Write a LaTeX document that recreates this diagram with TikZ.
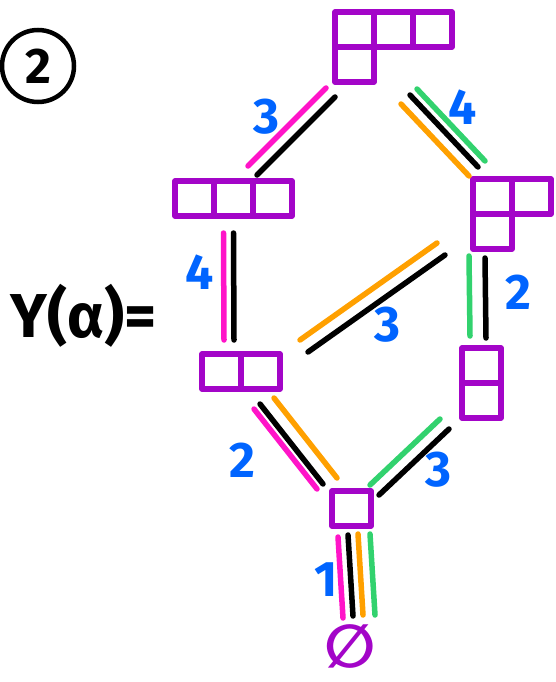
\documentclass[tikz,border=0pt]{standalone}
\usepackage{fontspec}
\setmainfont{Fira Sans}
\newfontfamily\symfont{DejaVu Sans}
\usetikzlibrary{positioning}
\definecolor{ypurple}{RGB}{163,5,200}
\definecolor{ypink}{RGB}{255,20,200}
\definecolor{yorange}{RGB}{255,160,0}
\definecolor{ygreen}{RGB}{50,210,110}
\definecolor{yblue}{RGB}{0,100,255}
\begin{document}
\begin{tikzpicture}[x=1pt, y=-1pt,
    cell/.style={draw=ypurple, line width=5.5pt, line join=round,
                 minimum width=39pt, minimum height=35pt,
                 inner sep=0pt, outer sep=0pt},
    edge/.style={line width=5.5pt, line cap=round},
    num/.style={text=yblue, inner sep=0pt,
                font=\bfseries\fontsize{50}{50}\selectfont}
  ]
    \useasboundingbox (0,0) rectangle (556,682);
    % Label
    \node[circle, draw, line width=4.5pt, minimum size=72pt, inner sep=0pt,
          font=\bfseries\fontsize{50}{50}\selectfont] (fig2) at (38,66) {2};
    \node[anchor=base west, inner sep=0pt,
          font=\bfseries\fontsize{62}{62}\selectfont] (yal) at (10,337) {Y(α)=};
    % Top: (3,1)
    \node[cell, anchor=north west] (t1) at (335,12) {};
    \node[cell, right=0pt of t1] (t2) {};
    \node[cell, right=0pt of t2] (t3) {};
    \node[cell, below=0pt of t1] (t4) {};
    % Second level: (3) and (2,1)
    \node[cell, anchor=north west] (l1) at (175,181) {};
    \node[cell, right=0pt of l1] (l2) {};
    \node[cell, right=0pt of l2] (l3) {};
    \node[cell, anchor=north west] (r1) at (473,179) {};
    \node[cell, right=0pt of r1] (r2) {};
    \node[cell, below=0pt of r1] (r3) {};
    % Third level: (2) and (1,1)
    \node[cell, anchor=north west] (m1) at (202,354) {};
    \node[cell, right=0pt of m1] (m2) {};
    \node[cell, anchor=north west] (n1) at (462,348) {};
    \node[cell, below=0pt of n1] (n2) {};
    % Bottom: (1) and empty
    \node[cell, anchor=north west] (b1) at (332,491) {};
    \node[text=ypurple, inner sep=0pt,
          font=\symfont\bfseries\fontsize{60}{60}\selectfont] (empty) at (350,646) {∅};
    % Edges (top half)
    \foreach \c/\dx/\dy in {ypink/-9/-9, black/0/0}
      \draw[edge, draw=\c, transform canvas={shift={(\dx,\dy)}}]
        ([shift={(0,15)}]t4.south west) -- ([shift={(-15.5,-6)}]l3.north);
    \foreach \c/\dx/\dy in {yorange/-9/9, black/0/0, ygreen/7/-6}
      \draw[edge, draw=\c, transform canvas={shift={(\dx,\dy)}}]
        ([shift={(-3,48)}]t3.south west) -- ([shift={(5,-12)}]r1.north west);
    \foreach \c/\dx/\dy in {ypink/-10/0, black/0/0}
      \draw[edge, draw=\c, transform canvas={shift={(\dx,\dy)}}]
        ([shift={(0,17)}]l2.south) -- ([shift={(-7,-14)}]m1.north east);
    \foreach \c/\dx/\dy in {yorange/-8/-12, black/0/0}
      \draw[edge, draw=\c, transform canvas={shift={(\dx,\dy)}}]
        ([shift={(-28,6)}]r3.south west) -- ([shift={(28,-2)}]m2.north east);
    \foreach \c/\dx/\dy in {ygreen/-16/-2, black/0/0}
      \draw[edge, draw=\c, transform canvas={shift={(\dx,\dy)}}]
        ([shift={(-7.5,9)}]r3.south) -- ([shift={(4.5,-10)}]n1.north);
    % Edges (bottom half)
    \foreach \c/\dx/\dy in {ypink/-6/5, black/0/0, yorange/14/-6}
      \draw[edge, draw=\c, transform canvas={shift={(\dx,\dy)}}]
        ([shift={(19,15)}]m2.south west) -- ([shift={(-9,-7)}]b1.north west);
    \foreach \c/\dx/\dy in {ygreen/-9/-10, black/0/0}
      \draw[edge, draw=\c, transform canvas={shift={(\dx,\dy)}}]
        ([shift={(-13,11)}]n2.south west) -- ([shift={(8,4)}]b1.north east);
    \foreach \c/\dx/\dy in {ypink/-10/2, black/0/0, yorange/10/-1, ygreen/22/-1}
      \draw[edge, draw=\c, transform canvas={shift={(\dx,\dy)}}]
        ([shift={(-3.5,9)}]b1.south) -- ([shift={(3,-30)}]empty.center);
    % Multiplicities
    \node[num] (k1) at (266,117) {3};
    \node[num] (k2) at (463,107) {4};
    \node[num] (k3) at (200,272) {4};
    \node[num] (k4) at (387,325) {3};
    \node[num] (k5) at (518,292) {2};
    \node[num] (k6) at (242,460) {2};
    \node[num] (k7) at (438,470) {3};
    \node[num] (k8) at (326,580) {1};
\end{tikzpicture}
\end{document}
